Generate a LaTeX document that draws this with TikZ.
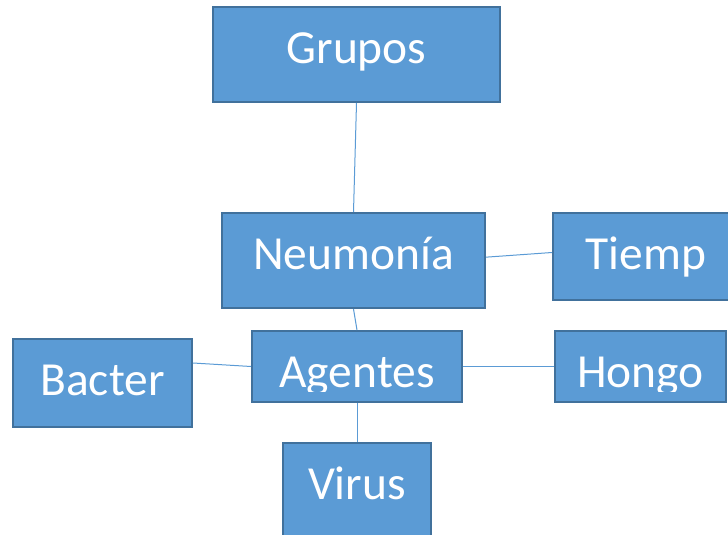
\documentclass[tikz,border=0pt]{standalone}
\usepackage{fontspec}
\setmainfont{Carlito}
\definecolor{boxblue}{HTML}{5B9BD5}
\definecolor{boxedge}{HTML}{41719C}
\usepackage{tikz}
\usetikzlibrary{
    positioning,
    calc
}
\tikzstyle{box} = [
    rectangle,
    draw=boxedge,
    line width=1.5pt,
    fill=boxblue,
    inner sep=0pt
]
\tikzstyle{label} = [
    anchor=base,
    inner sep=0pt,
    text=white,
    font=\fontsize{35.6}{40}\selectfont
]
\tikzstyle{link} = [
    draw=boxblue,
    line width=0.75pt
]

\begin{document}
\begin{tikzpicture}[x=0.75pt, y=-0.75pt]
        \clip (0,0) rectangle (728,535);

        % Boxes
        \node[box, minimum width=287*0.75pt, minimum height=95*0.75pt] (grupos) at (356.5,54.5) {};
        \node[box, minimum width=263*0.75pt, minimum height=95*0.75pt] (neumonia) at (353.5,260.5) {};
        \node[box, minimum width=186*0.75pt, minimum height=87*0.75pt] (tiemp) at (646,256.5) {};
        \node[box, minimum width=210*0.75pt, minimum height=71*0.75pt] (agentes) at (357,366.5) {};
        \node[box, minimum width=179*0.75pt, minimum height=88*0.75pt] (bacter) at (102.5,383) {};
        \node[box, minimum width=171*0.75pt, minimum height=71*0.75pt, right=91*0.75pt of agentes] (hongo) {};
        \node[box, minimum width=148*0.75pt, minimum height=95*0.75pt, below=39*0.75pt of agentes] (virus) {};

        % Texts
        \node[label] (grupos-t) at ([yshift=-7.1pt]grupos.center) {Grupos};
        \node[label] (neumonia-t) at ([yshift=-7.1pt]neumonia.center) {Neumonía};
        \node[label] (tiemp-t) at ([yshift=-10.1pt]tiemp.center) {Tiemp};
        \node[label] (bacter-t) at ([yshift=-9pt]bacter.center) {Bacter};
        \node[label] (virus-t) at ([yshift=-6.4pt]virus.center) {Virus};
        \begin{scope}
            \clip (agentes.north west) rectangle ([yshift=8.5pt]agentes.south east);
            \node[label] (agentes-t) at ([yshift=-15.4pt]agentes.center) {Agentes};
        \end{scope}
        \begin{scope}
            \clip (hongo.north west) rectangle ([yshift=8.5pt]hongo.south east);
            \node[label] (hongo-t) at ([yshift=-15.4pt]hongo.center) {Hongo};
        \end{scope}

        % Lines
        \draw[link] (grupos.south) -- (neumonia.north);
        \draw[link] ([yshift=2.5pt]neumonia.east) -- ([yshift=3pt]tiemp.west);
        \draw[link] (neumonia.south) -- (agentes.north);
        \draw[link] (agentes.west) -- ([yshift=15pt]bacter.east);
        \draw[link] (agentes.east) -- (hongo.west);
        \draw[link] (agentes.south) -- (virus.north);
    \end{tikzpicture}
\end{document}
